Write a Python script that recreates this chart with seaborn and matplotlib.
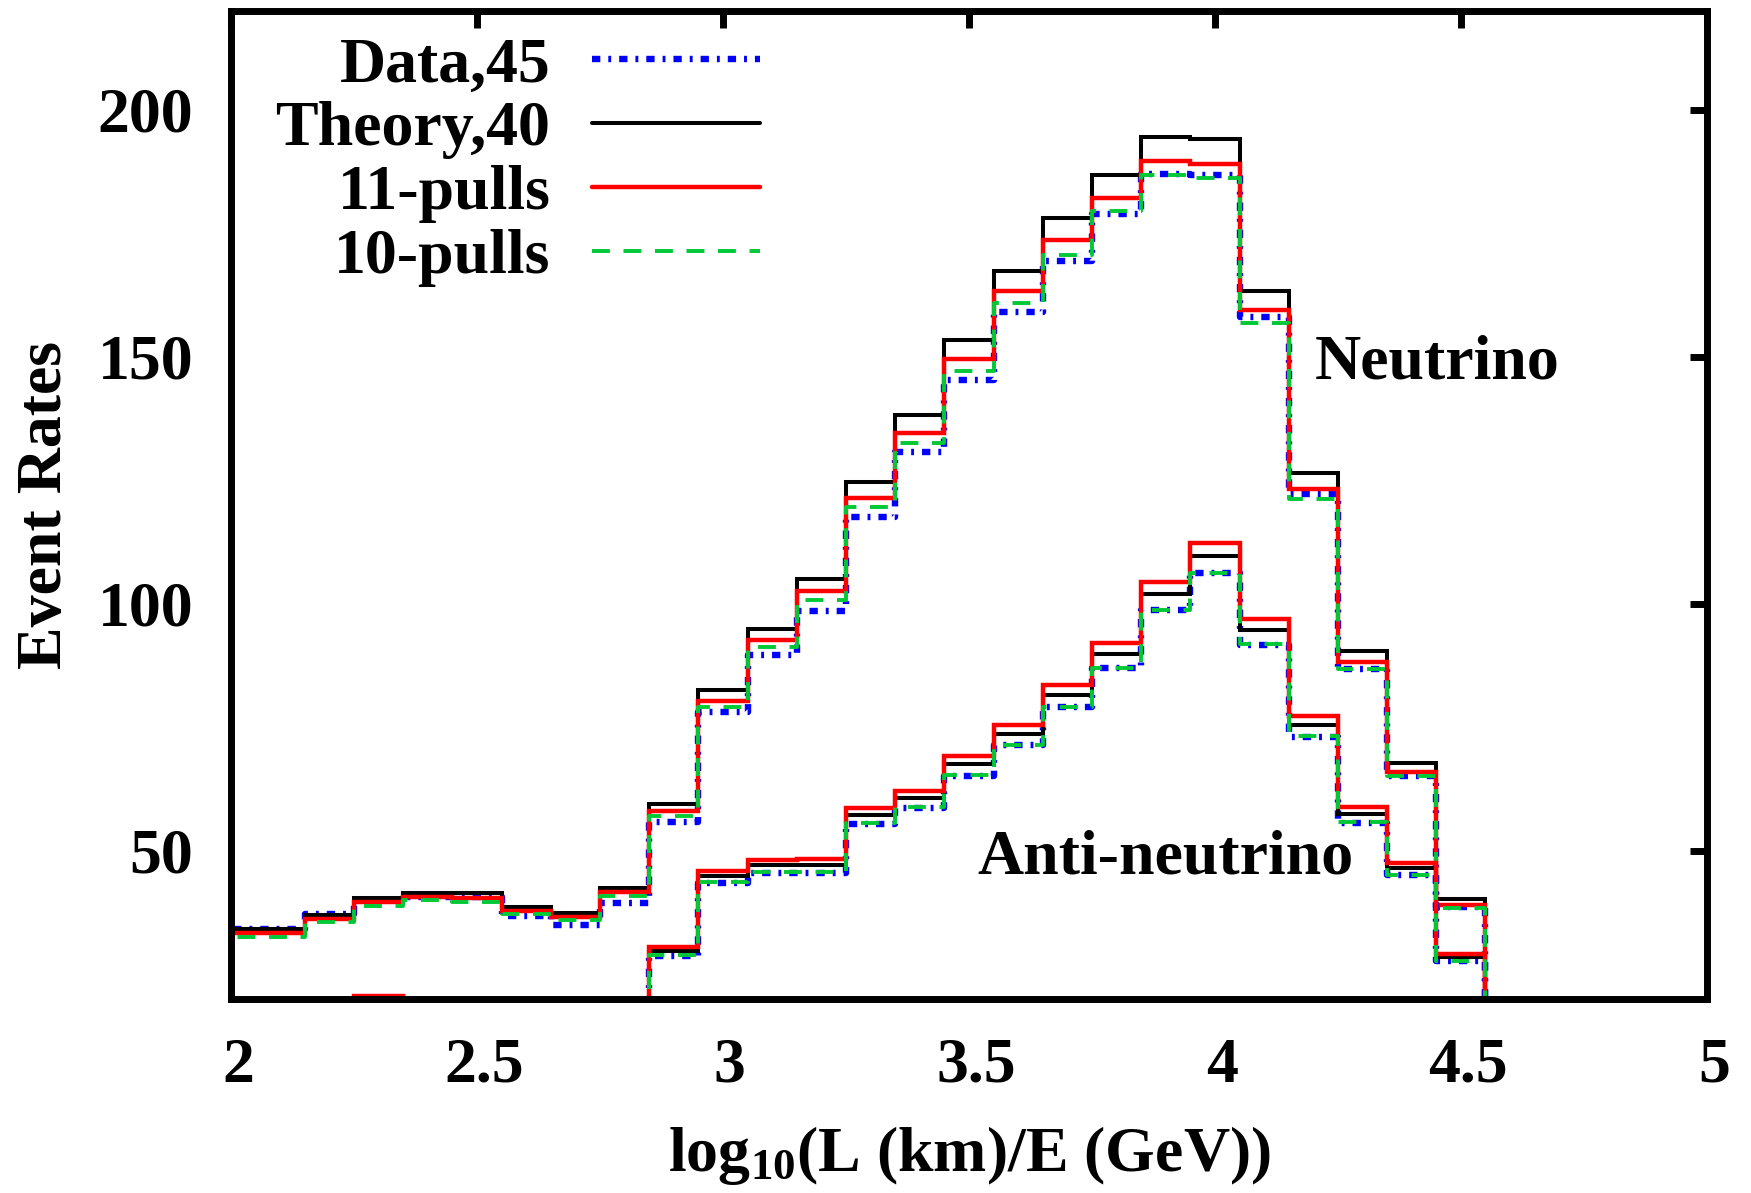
import numpy as np
import pandas as pd
import matplotlib
matplotlib.use("Agg")
import matplotlib.pyplot as plt
import matplotlib.transforms as mtransforms
import seaborn as sns

# Bin centres in log10(L/E); each bin is 0.1 wide
bin_centers = [2.0, 2.1, 2.2, 2.3, 2.4, 2.5, 2.6, 2.7, 2.8, 2.9,
               3.0, 3.1, 3.2, 3.3, 3.4, 3.5, 3.6, 3.7, 3.8, 3.9,
               4.0, 4.1, 4.2, 4.3, 4.4, 4.5, 4.6]
bin_width = 0.1

# Neutrino event rates
nu_data = [34.1, 34.1, 37.3, 40.0, 40.7, 40.6, 36.9, 35.0, 39.4, 55.8,
           78.1, 89.6, 98.6, 117.6, 130.7, 145.4, 159.1, 169.4, 179.0, 187.0,
           186.8, 158.0, 122.2, 86.9, 65.2, 38.7, 0.0]
nu_theory = [34.1, 34.1, 37.0, 40.5, 41.5, 41.4, 38.7, 37.5, 42.5, 59.4,
             82.5, 95.0, 105.0, 124.7, 138.2, 153.4, 167.4, 178.0, 186.8, 194.5,
             194.0, 163.4, 126.4, 90.4, 67.7, 40.2, 0.0]
nu_11pulls = [33.3, 33.3, 36.2, 39.6, 40.6, 40.4, 37.9, 36.7, 41.6, 58.1,
              80.4, 92.6, 102.5, 121.5, 134.6, 149.5, 163.3, 173.6, 182.2, 189.7,
              189.1, 159.4, 123.2, 88.2, 66.0, 39.1, 0.0]
nu_10pulls = [32.6, 32.6, 35.6, 38.9, 40.0, 39.7, 37.2, 36.0, 40.8, 57.0,
              79.2, 91.2, 100.8, 119.6, 132.5, 147.2, 160.8, 170.7, 179.5, 186.8,
              186.2, 156.9, 121.3, 86.9, 65.2, 38.5, 0.0]

# Anti-neutrino event rates
anu_data = [16.5, 17.6, 18.5, 19.4, 19.1, 18.2, 16.9, 16.0, 17.1, 28.7,
            43.4, 45.5, 45.5, 55.4, 58.7, 65.2, 71.4, 79.1, 87.0, 98.7,
            106.2, 91.7, 73.1, 55.7, 45.1, 27.6, 0.0]
anu_theory = [16.8, 17.9, 18.8, 19.8, 19.5, 18.6, 17.2, 16.4, 17.5, 29.8,
              45.0, 47.2, 47.2, 57.3, 60.6, 67.5, 73.7, 81.5, 89.8, 101.9,
              109.7, 94.6, 75.4, 57.4, 46.6, 28.5, 0.0]
anu_11pulls = [17.2, 18.5, 19.4, 20.6, 19.9, 19.0, 17.6, 16.8, 18.0, 30.5,
               46.0, 48.2, 48.4, 58.7, 62.2, 69.1, 75.5, 83.5, 92.0, 104.4,
               112.3, 96.9, 77.2, 58.9, 47.6, 29.1, 0.0]
anu_10pulls = [16.5, 17.6, 18.5, 19.4, 19.1, 18.2, 16.9, 16.0, 17.1, 29.0,
               43.6, 45.8, 45.8, 55.7, 58.9, 65.4, 71.5, 79.2, 87.1, 98.8,
               106.3, 91.8, 73.2, 55.8, 45.2, 27.7, 0.0]

x_ticks = [2, 2.5, 3, 3.5, 4, 4.5, 5]
x_tick_labels = ["2", "2.5", "3", "3.5", "4", "4.5", "5"]
y_ticks = [50, 100, 150, 200]
y_tick_labels = ["50", "100", "150", "200"]

series_labels = ["Data,45", "Theory,40", "11-pulls", "10-pulls"]

sns.set_style("white")
plt.rcParams["font.family"] = ["Liberation Serif", "DejaVu Serif"]
plt.rcParams["font.weight"] = "bold"
plt.rcParams["mathtext.default"] = "regular"
plt.rcParams["axes.linewidth"] = 5
for key in ["text.color", "axes.labelcolor", "xtick.color", "ytick.color",
            "axes.edgecolor"]:
    plt.rcParams[key] = "black"

fs = 46

fig = plt.figure(figsize=(17.51, 11.93), dpi=100)
ax = fig.add_axes([0.1319, 0.1626, 0.8429, 0.8282])

edges = [round(c - bin_width / 2, 3) for c in bin_centers]
edges.append(round(bin_centers[-1] + bin_width / 2, 3))

styles = [
    dict(color="#0000ff", linewidth=4.6, dashes=(1.3, 1.25, 0.45, 1.25)),
    dict(color="#000000", linewidth=2.9),
    dict(color="#ff0000", linewidth=3.2),
    dict(color="#00c837", linewidth=2.8, dashes=(4.6, 3.5)),
]

nu_sets = [nu_data, nu_theory, nu_11pulls, nu_10pulls]
anu_sets = [anu_data, anu_theory, anu_11pulls, anu_10pulls]

for vals, lab, st in zip(nu_sets, series_labels, styles):
    df = pd.DataFrame({"x": bin_centers, "w": vals})
    sns.histplot(data=df, x="x", weights="w", bins=edges, element="step",
                 fill=False, ax=ax, label=lab, solid_joinstyle="miter", **st)

for vals, st in zip(anu_sets, styles):
    df = pd.DataFrame({"x": bin_centers, "w": vals})
    sns.histplot(data=df, x="x", weights="w", bins=edges, element="step",
                 fill=False, ax=ax, label="_nolegend_", solid_joinstyle="miter", **st)

ax.set_xlim(2, 5)
ax.set_ylim(20, 220)
ax.set_xticks(x_ticks)
ax.set_xticklabels(x_tick_labels)
ax.set_yticks(y_ticks)
ax.set_yticklabels(y_tick_labels)
ax.tick_params(axis="both", which="major", direction="in", length=12, width=5,
               top=True, right=True, labelsize=fs, color="black")
ax.tick_params(axis="x", pad=28)
ax.tick_params(axis="y", pad=27)
shift = mtransforms.ScaledTranslation(5 / 72, 0, fig.dpi_scale_trans)
for lbl in ax.get_xticklabels():
    lbl.set_fontweight("bold")
    lbl.set_transform(lbl.get_transform() + shift)
for lbl in ax.get_yticklabels():
    lbl.set_fontweight("bold")
for sp in ax.spines.values():
    sp.set_color("black")
    sp.set_linewidth(5)
    sp.set_zorder(5)

ax.set_xlabel("log$_{10}$(L (km)/E (GeV))", fontsize=fs, fontweight="bold")
ax.xaxis.set_label_coords(0.5, -0.126)
ax.set_ylabel("Event Rates", fontsize=fs, fontweight="bold")
ax.yaxis.set_label_coords(-0.106, 0.5)

ax.text(4.202, 145.7, "Neutrino", fontsize=fs, fontweight="bold",
        ha="left", va="baseline")
ax.text(4.281, 45.5, "Anti-neutrino", fontsize=fs, fontweight="bold",
        ha="right", va="baseline")

leg = ax.legend(loc="upper right", bbox_to_anchor=(0.3584, 0.974),
                frameon=False, markerfirst=False, fontsize=fs,
                borderpad=0, borderaxespad=0, handlelength=2.63,
                handletextpad=0.65, labelspacing=0.08)
for t in leg.get_texts():
    t.set_fontweight("bold")

fig.savefig("out.png", dpi=100, facecolor="white")
